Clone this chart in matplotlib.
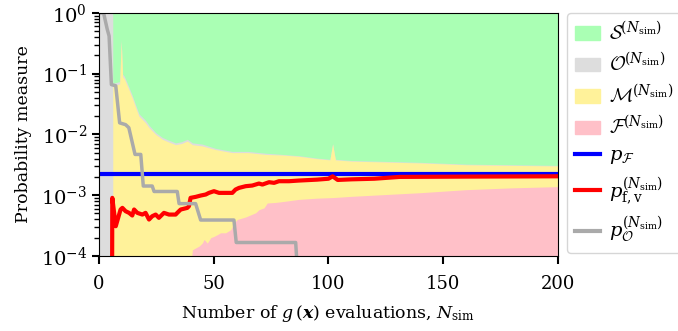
import matplotlib
matplotlib.use("Agg")
import matplotlib.pyplot as plt
import numpy as np
from matplotlib.patches import Patch
from matplotlib.lines import Line2D

plt.rcParams['font.family'] = ['DejaVu Serif']
plt.rcParams['mathtext.fontset'] = 'custom'
plt.rcParams['mathtext.rm'] = 'DejaVu Serif'
plt.rcParams['mathtext.it'] = 'DejaVu Serif:italic'
plt.rcParams['mathtext.bf'] = 'DejaVu Serif:bold'
plt.rcParams['mathtext.bfit'] = 'DejaVu Serif:bold:italic'
plt.rcParams['mathtext.cal'] = 'cmsy10'

# upper edge of the failure region F
n_fail = [39.9, 40.7, 42.1, 43.6, 45.0, 45.8, 47.2, 48.7, 50.1, 51.6, 53.0, 55.2, 57.4,
          58.8, 60.3, 63.9, 68.3, 69.7, 71.9, 73.3, 77.0, 81.3, 87.1, 95, 102, 110,
          120, 140, 160, 180, 200]
log_fail = [-4.2, -3.90, -3.87, -3.84, -3.79, -3.73, -3.79, -3.70, -3.68, -3.65, -3.62,
            -3.62, -3.57, -3.46, -3.40, -3.36, -3.29, -3.24, -3.21, -3.13, -3.12, -3.10,
            -3.07, -3.05, -3.04, -3.02, -3.00, -2.96, -2.91, -2.88, -2.86]

# upper edge of the margin region M (stacked on F)
n_margin = [6, 9, 9.7, 10.3, 11, 13, 14.5, 16, 17.4, 19, 20.3, 21.8, 24.7, 27.6, 30,
            33.4, 36, 38.5, 40.7, 45, 50.8, 58, 65, 72.6, 80, 87, 95, 100.6, 101.8,
            103, 110, 120, 140, 160, 180, 200]
log_margin = [-1.20, -1.17, -0.47, -1.05, -1.08, -1.26, -1.40, -1.56, -1.70, -1.76,
              -1.81, -1.89, -2.00, -2.08, -2.12, -2.17, -2.15, -2.11, -2.17, -2.19,
              -2.25, -2.30, -2.30, -2.33, -2.34, -2.36, -2.40, -2.42, -2.16, -2.42,
              -2.44, -2.45, -2.47, -2.50, -2.51, -2.52]

# upper edge of the outside region O (stacked on M)
n_out = [0, 6, 6, 9, 9.7, 10.3, 11, 13, 14.5, 16, 17.4, 19, 20.3, 21.8, 24.7, 27.6, 30,
         33.4, 36, 38.5, 40.7, 45, 50.8, 58, 65, 72.6, 80, 87, 95, 100.6, 101.8, 103,
         110, 120, 140, 160, 180, 200]
log_out = [0, 0, -1.16, -1.13, -0.44, -1.01, -1.04, -1.22, -1.36, -1.52, -1.66, -1.72,
           -1.77, -1.85, -1.97, -2.05, -2.09, -2.14, -2.12, -2.08, -2.14, -2.16, -2.23,
           -2.28, -2.28, -2.31, -2.33, -2.35, -2.39, -2.41, -2.15, -2.41, -2.43, -2.44,
           -2.46, -2.49, -2.50, -2.51]

p_F = 0.00225

# p_f,v estimate
n_fv = [5.6, 5.8, 7.3, 9.4, 10.2, 11.6, 13.1, 14.5, 15.3, 16.7, 18.9, 20.3, 21.8, 23.2,
        24.7, 26.1, 28.3, 30.5, 33.4, 34.1, 35.6, 38.5, 39.2, 39.9, 42.1, 44.3, 46.5,
        47.9, 50.1, 52.3, 58.1, 59.5, 61.0, 63.9, 66.8, 69.7, 71.2, 74.1, 76.3, 78.4,
        82.8, 87.1, 95, 100, 101.8, 104, 110, 120, 131, 160, 200]
log_fv = [-6, -3.045, -3.512, -3.237, -3.210, -3.265, -3.292, -3.336, -3.237, -3.292,
          -3.320, -3.292, -3.402, -3.347, -3.320, -3.374, -3.292, -3.320, -3.320, -3.292,
          -3.237, -3.210, -3.182, -3.045, -3.029, -3.007, -2.990, -2.963, -2.935, -2.963,
          -2.963, -2.908, -2.881, -2.853, -2.842, -2.809, -2.826, -2.787, -2.798, -2.771,
          -2.771, -2.760, -2.745, -2.73, -2.69, -2.75, -2.74, -2.73, -2.70, -2.695, -2.69]

# p_O estimate
n_po = [0, 2, 3.6, 4.4, 5.4, 7.3, 9.0, 11.6, 13.0, 15.7, 18.2, 19.3, 23.2, 24.0, 34.1,
        34.9, 42.1, 44.3, 58.8, 59.8, 85.7, 86.9]
log_po = [0, 0, -0.27, -0.38, -1.18, -1.20, -1.81, -1.84, -1.89, -2.33, -2.33, -2.85,
          -2.85, -2.94, -2.94, -3.14, -3.14, -3.41, -3.41, -3.78, -3.78, -4.5]

c_safe = '#aaffb4'
c_out = '#dddddd'
c_margin = '#fff29a'
c_fail = '#ffc0c8'

fig, ax = plt.subplots(figsize=(6.78, 3.31), dpi=100)
fig.subplots_adjust(left=0.146, right=0.823, bottom=0.227, top=0.961)

low = 1e-4
ax.fill_between([0, 200], low, 1, color=c_safe, lw=0)
ax.fill_between(n_out, low, 10**np.array(log_out), color=c_out, lw=0)
ax.fill_between(n_margin, low, 10**np.array(log_margin), color=c_margin, lw=0)
ax.fill_between(n_fail, low, 10**np.array(log_fail), color=c_fail, lw=0)

ax.axhline(p_F, color='blue', lw=3)
ax.plot(n_fv, 10**np.array(log_fv), color='red', lw=3)
ax.plot(n_po, 10**np.array(log_po), color='#aaaaaa', lw=2.5)

ax.set_yscale('log')
ax.set_xlim(0, 200)
ax.set_ylim(1e-4, 1)
ax.set_xticks([0, 50, 100, 150, 200])
ax.tick_params(axis='y', which='major', length=5, width=1.5, labelsize=14)
ax.tick_params(axis='x', which='major', length=6, width=1.5, labelsize=13, pad=8)
ax.tick_params(which='minor', length=3.5, width=1)
ax.set_xlabel(r'Number of $g\,(\boldsymbol{x})$ evaluations, $N_\mathrm{sim}$',
              fontsize=12.5, labelpad=7)
ax.set_ylabel('Probability measure', fontsize=12.5, labelpad=6)

sup = r'^{(N_\mathrm{sim})}'
handles = [
    Patch(color=c_safe, label=r'$\mathcal{S}' + sup + '$'),
    Patch(color=c_out, label=r'$\mathcal{O}' + sup + '$'),
    Patch(color=c_margin, label=r'$\mathcal{M}' + sup + '$'),
    Patch(color=c_fail, label=r'$\mathcal{F}' + sup + '$'),
    Line2D([], [], color='blue', lw=3, label=r'$p_\mathcal{F}$'),
    Line2D([], [], color='red', lw=3, label=r'$p_\mathrm{f,v}' + sup + '$'),
    Line2D([], [], color='#aaaaaa', lw=3, label=r'$p_\mathcal{O}' + sup + '$'),
]
ax.legend(handles=handles, loc='upper left', bbox_to_anchor=(1.02, 1.0),
          borderaxespad=0, fontsize=14, handlelength=1.3, labelspacing=0.42,
          handletextpad=0.45, borderpad=0.4)

fig.savefig('out.png', dpi=100)
